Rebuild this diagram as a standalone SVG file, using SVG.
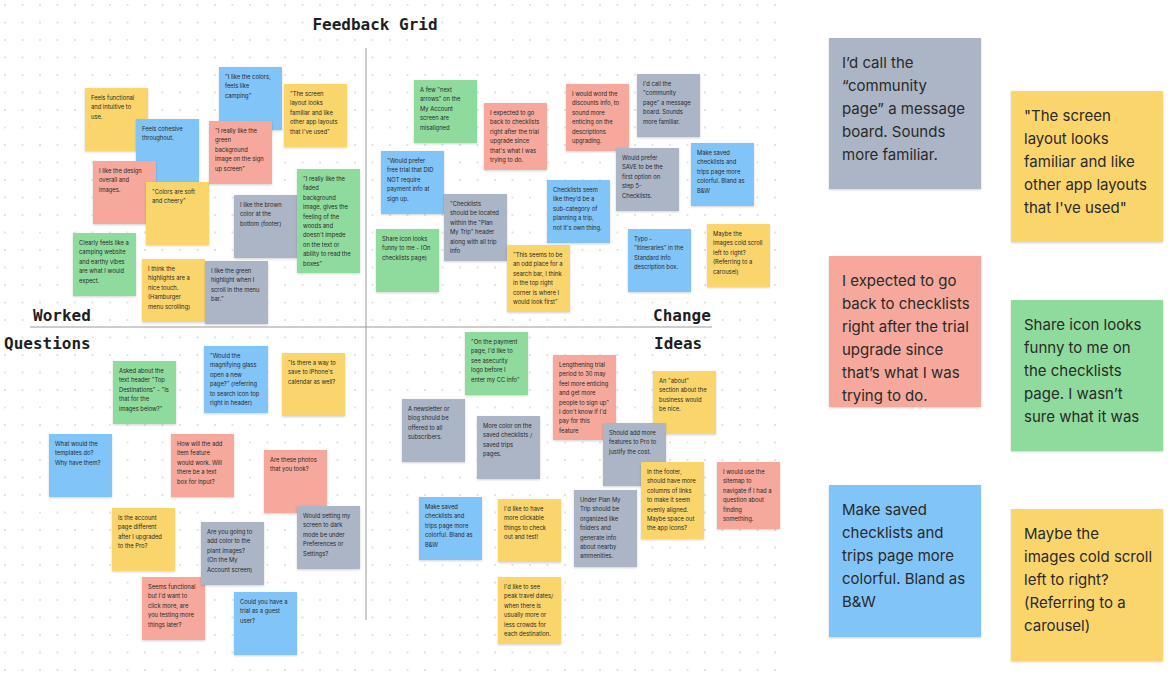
<svg xmlns="http://www.w3.org/2000/svg" width="1173" height="679" viewBox="0 0 1173 679">
<defs>
<pattern id="dots" x="4" y="4" width="17.5" height="17.5" patternUnits="userSpaceOnUse">
<circle cx="1" cy="1" r="0.9" fill="#d6d6d6"/>
</pattern>
<filter id="sh" x="-10%" y="-10%" width="130%" height="130%">
<feDropShadow dx="0" dy="1" stdDeviation="0.8" flood-color="#000" flood-opacity="0.18"/>
</filter>
<style>
.n rect{filter:url(#sh)}
.y{fill:#FAD56C}.b{fill:#80C4F8}.r{fill:#F5A89B}.g{fill:#8EDB9D}.k{fill:#ABB5C6}
.s{font-family:Inter,"Liberation Sans",sans-serif;font-size:5.8px;fill:#2a2a2a}
.L{font-family:Inter,"Liberation Sans",sans-serif;font-size:15px;fill:#2a2a2a}
.h{font-family:"DejaVu Sans Mono","Liberation Mono",monospace;font-size:16px;font-weight:bold;fill:#1e1e1e}
.ax{stroke:#9a9a9a;stroke-width:1;fill:none}
</style>
</defs>
<rect width="1173" height="679" fill="#ffffff"/>
<rect x="0" y="0" width="790" height="679" fill="url(#dots)"/>

<g id="connectors">
<line class="ax" x1="366" y1="48" x2="366" y2="620"/>
<line class="ax" x1="30" y1="327" x2="712" y2="327"/>
</g>

<g id="labels">
<text class="h" x="375" y="30" text-anchor="middle">Feedback Grid</text>
<text class="h" x="33" y="321">Worked</text>
<text class="h" x="4" y="349">Questions</text>
<text class="h" x="653" y="321">Change</text>
<text class="h" x="654" y="349">Ideas</text>
</g>

<!-- Top-left: Worked -->
<g id="tl1" class="n"><rect class="y" x="85" y="88" width="63" height="63"/><text class="s" y="100"><tspan x="91">Feels functional</tspan><tspan x="91" dy="9.4">and intuitive to</tspan><tspan x="91" dy="9.4">use.</tspan></text></g>
<g id="tl2" class="n"><rect class="b" x="136" y="119" width="63" height="63"/><text class="s" y="131"><tspan x="142">Feels cohesive</tspan><tspan x="142" dy="9.4">throughout.</tspan></text></g>
<g id="tl3" class="n"><rect class="r" x="93" y="161" width="63" height="63"/><text class="s" y="173"><tspan x="99">I like the design</tspan><tspan x="99" dy="9.4">overall and</tspan><tspan x="99" dy="9.4">images.</tspan></text></g>
<g id="tl4" class="n"><rect class="y" x="146" y="182" width="63" height="63"/><text class="s" y="194"><tspan x="152">"Colors are soft</tspan><tspan x="152" dy="9.4">and cheery"</tspan></text></g>
<g id="tl5" class="n"><rect class="g" x="73" y="233" width="63" height="63"/><text class="s" y="245"><tspan x="79">Clearly feels like a</tspan><tspan x="79" dy="9.4">camping website</tspan><tspan x="79" dy="9.4">and earthy vibes</tspan><tspan x="79" dy="9.4">are what I would</tspan><tspan x="79" dy="9.4">expect.</tspan></text></g>
<g id="tl6" class="n"><rect class="y" x="142" y="259" width="63" height="63"/><text class="s" y="271"><tspan x="148">I think the</tspan><tspan x="148" dy="9.4">highlights are a</tspan><tspan x="148" dy="9.4">nice touch.</tspan><tspan x="148" dy="9.4">(Hamburger</tspan><tspan x="148" dy="9.4">menu scrolling)</tspan></text></g>
<g id="tl7" class="n"><rect class="b" x="219" y="67" width="63" height="63"/><text class="s" y="79"><tspan x="225">"I like the colors,</tspan><tspan x="225" dy="9.4">feels like</tspan><tspan x="225" dy="9.4">camping"</tspan></text></g>
<g id="tl8" class="n"><rect class="y" x="284" y="84" width="63" height="63"/><text class="s" y="96"><tspan x="290">"The screen</tspan><tspan x="290" dy="9.4">layout looks</tspan><tspan x="290" dy="9.4">familiar and like</tspan><tspan x="290" dy="9.4">other app layouts</tspan><tspan x="290" dy="9.4">that I've used"</tspan></text></g>
<g id="tl9" class="n"><rect class="r" x="209" y="121" width="63" height="63"/><text class="s" y="133"><tspan x="215">"I really like the</tspan><tspan x="215" dy="9.4">green</tspan><tspan x="215" dy="9.4">background</tspan><tspan x="215" dy="9.4">image on the sign</tspan><tspan x="215" dy="9.4">up screen"</tspan></text></g>
<g id="tl10" class="n"><rect class="k" x="234" y="195" width="63" height="63"/><text class="s" y="207"><tspan x="240">I like the brown</tspan><tspan x="240" dy="9.4">color at the</tspan><tspan x="240" dy="9.4">bottom (footer)</tspan></text></g>
<g id="tl11" class="n"><rect class="g" x="297" y="169" width="63" height="104"/><text class="s" y="181"><tspan x="303">"I really like the</tspan><tspan x="303" dy="9.4">faded</tspan><tspan x="303" dy="9.4">background</tspan><tspan x="303" dy="9.4">image, gives the</tspan><tspan x="303" dy="9.4">feeling of the</tspan><tspan x="303" dy="9.4">woods and</tspan><tspan x="303" dy="9.4">doesn't impede</tspan><tspan x="303" dy="9.4">on the text or</tspan><tspan x="303" dy="9.4">ability to read the</tspan><tspan x="303" dy="9.4">boxes"</tspan></text></g>
<g id="tl12" class="n"><rect class="k" x="205" y="261" width="63" height="63"/><text class="s" y="273"><tspan x="211">I like the green</tspan><tspan x="211" dy="9.4">highlight when I</tspan><tspan x="211" dy="9.4">scroll in the menu</tspan><tspan x="211" dy="9.4">bar."</tspan></text></g>

<!-- Top-right: Change -->
<g id="tr1" class="n"><rect class="g" x="414" y="80" width="63" height="63"/><text class="s" y="92"><tspan x="420">A few "next</tspan><tspan x="420" dy="9.4">arrows" on the</tspan><tspan x="420" dy="9.4">My Account</tspan><tspan x="420" dy="9.4">screen are</tspan><tspan x="420" dy="9.4">misaligned</tspan></text></g>
<g id="tr2" class="n"><rect class="r" x="484" y="103" width="63" height="67"/><text class="s" y="115"><tspan x="490">I expected to go</tspan><tspan x="490" dy="9.4">back to checklists</tspan><tspan x="490" dy="9.4">right after the trial</tspan><tspan x="490" dy="9.4">upgrade since</tspan><tspan x="490" dy="9.4">that's what I was</tspan><tspan x="490" dy="9.4">trying to do.</tspan></text></g>
<g id="tr3" class="n"><rect class="b" x="381" y="151" width="63" height="63"/><text class="s" y="163"><tspan x="387">"Would prefer</tspan><tspan x="387" dy="9.4">free trial that DID</tspan><tspan x="387" dy="9.4">NOT require</tspan><tspan x="387" dy="9.4">payment info at</tspan><tspan x="387" dy="9.4">sign up.</tspan></text></g>
<g id="tr4" class="n"><rect class="k" x="444" y="194" width="63" height="67"/><text class="s" y="206"><tspan x="450">"Checklists</tspan><tspan x="450" dy="9.4">should be located</tspan><tspan x="450" dy="9.4">within the "Plan</tspan><tspan x="450" dy="9.4">My Trip" header</tspan><tspan x="450" dy="9.4">along with all trip</tspan><tspan x="450" dy="9.4">info</tspan></text></g>
<g id="tr5" class="n"><rect class="g" x="376" y="229" width="63" height="63"/><text class="s" y="241"><tspan x="382">Share icon looks</tspan><tspan x="382" dy="9.4">funny to me - (On</tspan><tspan x="382" dy="9.4">checklists page)</tspan></text></g>
<g id="tr6" class="n"><rect class="y" x="507" y="245" width="63" height="67"/><text class="s" y="257"><tspan x="513">"This seems to be</tspan><tspan x="513" dy="9.4">an odd place for a</tspan><tspan x="513" dy="9.4">search bar, I think</tspan><tspan x="513" dy="9.4">in the top right</tspan><tspan x="513" dy="9.4">corner is where I</tspan><tspan x="513" dy="9.4">would look first"</tspan></text></g>
<g id="tr7" class="n"><rect class="r" x="566" y="84" width="63" height="67"/><text class="s" y="96"><tspan x="572">I would word the</tspan><tspan x="572" dy="9.4">discounts info, to</tspan><tspan x="572" dy="9.4">sound more</tspan><tspan x="572" dy="9.4">enticing on the</tspan><tspan x="572" dy="9.4">descriptions</tspan><tspan x="572" dy="9.4">upgrading.</tspan></text></g>
<g id="tr8" class="n"><rect class="k" x="637" y="74" width="63" height="63"/><text class="s" y="86"><tspan x="643">I'd call the</tspan><tspan x="643" dy="9.4">"community</tspan><tspan x="643" dy="9.4">page" a message</tspan><tspan x="643" dy="9.4">board. Sounds</tspan><tspan x="643" dy="9.4">more familiar.</tspan></text></g>
<g id="tr9" class="n"><rect class="k" x="616" y="148" width="63" height="63"/><text class="s" y="160"><tspan x="622">Would prefer</tspan><tspan x="622" dy="9.4">SAVE to be the</tspan><tspan x="622" dy="9.4">first option on</tspan><tspan x="622" dy="9.4">step 5-</tspan><tspan x="622" dy="9.4">Checklists.</tspan></text></g>
<g id="tr10" class="n"><rect class="b" x="691" y="143" width="63" height="63"/><text class="s" y="155"><tspan x="697">Make saved</tspan><tspan x="697" dy="9.4">checklists and</tspan><tspan x="697" dy="9.4">trips page more</tspan><tspan x="697" dy="9.4">colorful. Bland as</tspan><tspan x="697" dy="9.4">B&amp;W</tspan></text></g>
<g id="tr11" class="n"><rect class="b" x="547" y="180" width="63" height="63"/><text class="s" y="192"><tspan x="553">Checklists seem</tspan><tspan x="553" dy="9.4">like they'd be a</tspan><tspan x="553" dy="9.4">sub-category of</tspan><tspan x="553" dy="9.4">planning a trip,</tspan><tspan x="553" dy="9.4">not it's own thing.</tspan></text></g>
<g id="tr12" class="n"><rect class="b" x="628" y="229" width="63" height="63"/><text class="s" y="241"><tspan x="634">Typo -</tspan><tspan x="634" dy="9.4">"itineraries" in the</tspan><tspan x="634" dy="9.4">Standard info</tspan><tspan x="634" dy="9.4">description box.</tspan></text></g>
<g id="tr13" class="n"><rect class="y" x="707" y="224" width="63" height="63"/><text class="s" y="236"><tspan x="713">Maybe the</tspan><tspan x="713" dy="9.4">images cold scroll</tspan><tspan x="713" dy="9.4">left to right?</tspan><tspan x="713" dy="9.4">(Referring to a</tspan><tspan x="713" dy="9.4">carousel)</tspan></text></g>

<!-- Bottom-left: Questions -->
<g id="bl1" class="n"><rect class="g" x="113" y="361" width="63" height="63"/><text class="s" y="373"><tspan x="119">Asked about the</tspan><tspan x="119" dy="9.4">text header "Top</tspan><tspan x="119" dy="9.4">Destinations" - "Is</tspan><tspan x="119" dy="9.4">that for the</tspan><tspan x="119" dy="9.4">images below?"</tspan></text></g>
<g id="bl2" class="n"><rect class="b" x="49" y="434" width="63" height="63"/><text class="s" y="446"><tspan x="55">What would the</tspan><tspan x="55" dy="9.4">templates do?</tspan><tspan x="55" dy="9.4">Why have them?</tspan></text></g>
<g id="bl3" class="n"><rect class="r" x="171" y="434" width="63" height="63"/><text class="s" y="446"><tspan x="177">How will the add</tspan><tspan x="177" dy="9.4">item feature</tspan><tspan x="177" dy="9.4">would work. Will</tspan><tspan x="177" dy="9.4">there be a text</tspan><tspan x="177" dy="9.4">box for input?</tspan></text></g>
<g id="bl4" class="n"><rect class="y" x="112" y="508" width="63" height="63"/><text class="s" y="520"><tspan x="118">Is the account</tspan><tspan x="118" dy="9.4">page different</tspan><tspan x="118" dy="9.4">after I upgraded</tspan><tspan x="118" dy="9.4">to the Pro?</tspan></text></g>
<g id="bl5" class="n"><rect class="r" x="142" y="577" width="63" height="63"/><text class="s" y="589"><tspan x="148">Seems functional</tspan><tspan x="148" dy="9.4">but I'd want to</tspan><tspan x="148" dy="9.4">click more, are</tspan><tspan x="148" dy="9.4">you testing more</tspan><tspan x="148" dy="9.4">things later?</tspan></text></g>
<g id="bl6" class="n"><rect class="b" x="204" y="346" width="64" height="67"/><text class="s" y="358"><tspan x="210">"Would the</tspan><tspan x="210" dy="9.4">magnifying glass</tspan><tspan x="210" dy="9.4">open a new</tspan><tspan x="210" dy="9.4">page?" (referring</tspan><tspan x="210" dy="9.4">to search icon top</tspan><tspan x="210" dy="9.4">right in header)</tspan></text></g>
<g id="bl7" class="n"><rect class="y" x="282" y="353" width="63" height="63"/><text class="s" y="365"><tspan x="288">"Is there a way to</tspan><tspan x="288" dy="9.4">save to iPhone's</tspan><tspan x="288" dy="9.4">calendar as well?</tspan></text></g>
<g id="bl8" class="n"><rect class="r" x="264" y="450" width="63" height="63"/><text class="s" y="462"><tspan x="270">Are these photos</tspan><tspan x="270" dy="9.4">that you took?</tspan></text></g>
<g id="bl9" class="n"><rect class="k" x="297" y="506" width="63" height="63"/><text class="s" y="518"><tspan x="303">Would setting my</tspan><tspan x="303" dy="9.4">screen to dark</tspan><tspan x="303" dy="9.4">mode be under</tspan><tspan x="303" dy="9.4">Preferences or</tspan><tspan x="303" dy="9.4">Settings?</tspan></text></g>
<g id="bl10" class="n"><rect class="k" x="201" y="522" width="63" height="63"/><text class="s" y="534"><tspan x="207">Are you going to</tspan><tspan x="207" dy="9.4">add color to the</tspan><tspan x="207" dy="9.4">plant images?</tspan><tspan x="207" dy="9.4">(On the My</tspan><tspan x="207" dy="9.4">Account screen)</tspan></text></g>
<g id="bl11" class="n"><rect class="b" x="234" y="592" width="63" height="63"/><text class="s" y="604"><tspan x="240">Could you have a</tspan><tspan x="240" dy="9.4">trial as a guest</tspan><tspan x="240" dy="9.4">user?</tspan></text></g>

<!-- Bottom-right: Ideas -->
<g id="br1" class="n"><rect class="g" x="465" y="332" width="63" height="63"/><text class="s" y="344"><tspan x="471">"On the payment</tspan><tspan x="471" dy="9.4">page, I'd like to</tspan><tspan x="471" dy="9.4">see asecurity</tspan><tspan x="471" dy="9.4">logo before I</tspan><tspan x="471" dy="9.4">enter my CC info"</tspan></text></g>
<g id="br2" class="n"><rect class="k" x="402" y="399" width="63" height="63"/><text class="s" y="411"><tspan x="408">A newsletter or</tspan><tspan x="408" dy="9.4">blog should be</tspan><tspan x="408" dy="9.4">offered to all</tspan><tspan x="408" dy="9.4">subscribers.</tspan></text></g>
<g id="br3" class="n"><rect class="k" x="477" y="416" width="63" height="63"/><text class="s" y="428"><tspan x="483">More color on the</tspan><tspan x="483" dy="9.4">saved checklists /</tspan><tspan x="483" dy="9.4">saved trips</tspan><tspan x="483" dy="9.4">pages.</tspan></text></g>
<g id="br4" class="n"><rect class="b" x="419" y="497" width="63" height="63"/><text class="s" y="509"><tspan x="425">Make saved</tspan><tspan x="425" dy="9.4">checklists and</tspan><tspan x="425" dy="9.4">trips page more</tspan><tspan x="425" dy="9.4">colorful. Bland as</tspan><tspan x="425" dy="9.4">B&amp;W</tspan></text></g>
<g id="br5" class="n"><rect class="y" x="498" y="499" width="63" height="63"/><text class="s" y="511"><tspan x="504">I'd like to have</tspan><tspan x="504" dy="9.4">more clickable</tspan><tspan x="504" dy="9.4">things to check</tspan><tspan x="504" dy="9.4">out and test!</tspan></text></g>
<g id="br6" class="n"><rect class="y" x="498" y="577" width="63" height="67"/><text class="s" y="589"><tspan x="504">I'd like to see</tspan><tspan x="504" dy="9.4">peak travel dates/</tspan><tspan x="504" dy="9.4">when there is</tspan><tspan x="504" dy="9.4">usually more or</tspan><tspan x="504" dy="9.4">less crowds for</tspan><tspan x="504" dy="9.4">each destination.</tspan></text></g>
<g id="br7" class="n"><rect class="r" x="553" y="355" width="63" height="85"/><text class="s" y="367"><tspan x="559">Lengthening trial</tspan><tspan x="559" dy="9.4">period to 30 may</tspan><tspan x="559" dy="9.4">feel more enticing</tspan><tspan x="559" dy="9.4">and get more</tspan><tspan x="559" dy="9.4">people to sign up"</tspan><tspan x="559" dy="9.4">I don't know if I'd</tspan><tspan x="559" dy="9.4">pay for this</tspan><tspan x="559" dy="9.4">feature</tspan></text></g>
<g id="br8" class="n"><rect class="y" x="653" y="371" width="63" height="63"/><text class="s" y="383"><tspan x="659">An "about"</tspan><tspan x="659" dy="9.4">section about the</tspan><tspan x="659" dy="9.4">business would</tspan><tspan x="659" dy="9.4">be nice.</tspan></text></g>
<g id="br9" class="n"><rect class="k" x="603" y="423" width="63" height="63"/><text class="s" y="435"><tspan x="609">Should add more</tspan><tspan x="609" dy="9.4">features to Pro to</tspan><tspan x="609" dy="9.4">justify the cost.</tspan></text></g>
<g id="br10" class="n"><rect class="y" x="641" y="462" width="63" height="77"/><text class="s" y="474"><tspan x="647">In the footer,</tspan><tspan x="647" dy="9.4">should have more</tspan><tspan x="647" dy="9.4">columns of links</tspan><tspan x="647" dy="9.4">to make it seem</tspan><tspan x="647" dy="9.4">evenly aligned.</tspan><tspan x="647" dy="9.4">Maybe space out</tspan><tspan x="647" dy="9.4">the app icons?</tspan></text></g>
<g id="br11" class="n"><rect class="r" x="717" y="462" width="63" height="67"/><text class="s" y="474"><tspan x="723">I would use the</tspan><tspan x="723" dy="9.4">sitemap to</tspan><tspan x="723" dy="9.4">navigate if I had a</tspan><tspan x="723" dy="9.4">question about</tspan><tspan x="723" dy="9.4">finding</tspan><tspan x="723" dy="9.4">something.</tspan></text></g>
<g id="br12" class="n"><rect class="k" x="574" y="490" width="63" height="77"/><text class="s" y="502"><tspan x="580">Under Plan My</tspan><tspan x="580" dy="9.4">Trip should be</tspan><tspan x="580" dy="9.4">organized like</tspan><tspan x="580" dy="9.4">folders and</tspan><tspan x="580" dy="9.4">generate info</tspan><tspan x="580" dy="9.4">about nearby</tspan><tspan x="580" dy="9.4">ammenities.</tspan></text></g>

<!-- Right: highlighted notes -->
<g id="big1" class="n"><rect class="k" x="829" y="38" width="152" height="151"/><text class="L" y="68"><tspan x="842">I’d call the</tspan><tspan x="842" dy="23">“community</tspan><tspan x="842" dy="23">page” a message</tspan><tspan x="842" dy="23">board. Sounds</tspan><tspan x="842" dy="23">more familiar.</tspan></text></g>
<g id="big2" class="n"><rect class="y" x="1011" y="91" width="152" height="151"/><text class="L" y="121"><tspan x="1024">"The screen</tspan><tspan x="1024" dy="23">layout looks</tspan><tspan x="1024" dy="23">familiar and like</tspan><tspan x="1024" dy="23">other app layouts</tspan><tspan x="1024" dy="23">that I've used"</tspan></text></g>
<g id="big3" class="n"><rect class="r" x="829" y="256" width="152" height="151"/><text class="L" y="286"><tspan x="842">I expected to go</tspan><tspan x="842" dy="23">back to checklists</tspan><tspan x="842" dy="23">right after the trial</tspan><tspan x="842" dy="23">upgrade since</tspan><tspan x="842" dy="23">that’s what I was</tspan><tspan x="842" dy="23">trying to do.</tspan></text></g>
<g id="big4" class="n"><rect class="g" x="1011" y="300" width="152" height="151"/><text class="L" y="330"><tspan x="1024">Share icon looks</tspan><tspan x="1024" dy="23">funny to me on</tspan><tspan x="1024" dy="23">the checklists</tspan><tspan x="1024" dy="23">page. I wasn’t</tspan><tspan x="1024" dy="23">sure what it was</tspan></text></g>
<g id="big5" class="n"><rect class="b" x="829" y="485" width="152" height="152"/><text class="L" y="515"><tspan x="842">Make saved</tspan><tspan x="842" dy="23">checklists and</tspan><tspan x="842" dy="23">trips page more</tspan><tspan x="842" dy="23">colorful. Bland as</tspan><tspan x="842" dy="23">B&amp;W</tspan></text></g>
<g id="big6" class="n"><rect class="y" x="1011" y="509" width="152" height="152"/><text class="L" y="539"><tspan x="1024">Maybe the</tspan><tspan x="1024" dy="23">images cold scroll</tspan><tspan x="1024" dy="23">left to right?</tspan><tspan x="1024" dy="23">(Referring to a</tspan><tspan x="1024" dy="23">carousel)</tspan></text></g>
</svg>
